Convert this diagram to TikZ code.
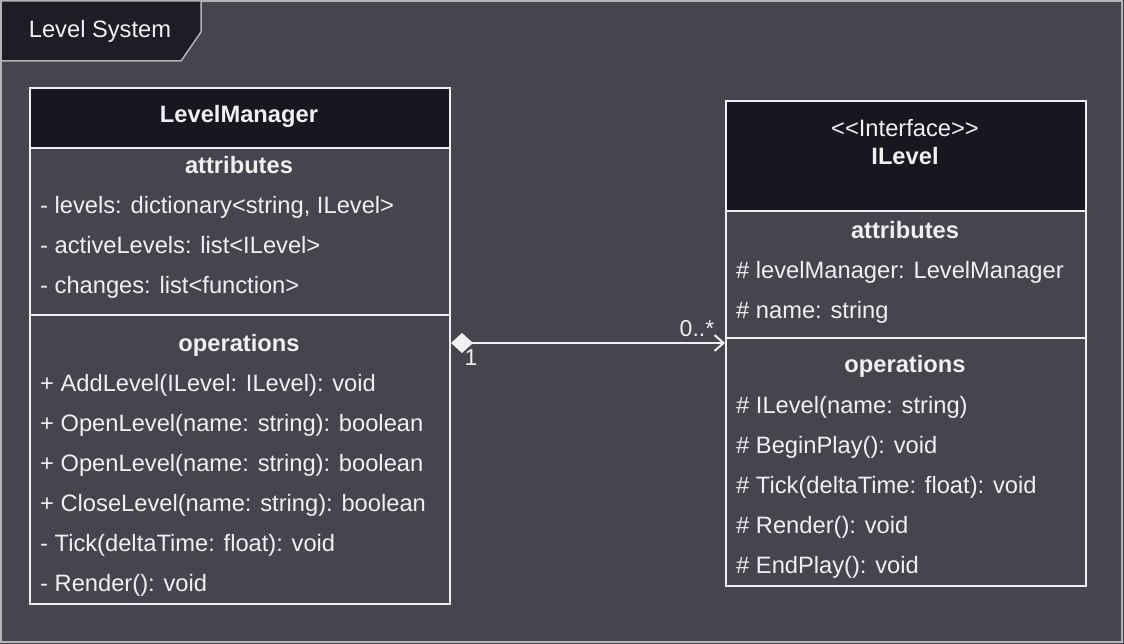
\documentclass[tikz,border=0pt]{standalone}
\usepackage{fontspec}
\setmainfont{Liberation Sans}[Ligatures=NoCommon]
\usetikzlibrary{arrows.meta}
\definecolor{bg}{HTML}{46444C}
\definecolor{hd}{HTML}{18161E}
\definecolor{tabc}{HTML}{1E1C24}
\definecolor{fg}{HTML}{F0F0F0}
\definecolor{framec}{HTML}{B4B4B4}
\begin{document}
\begin{tikzpicture}[x=1pt,y=-1pt,
  txt/.style={text=fg, font=\fontsize{23.7}{28}\selectfont, inner sep=0pt},
  item/.style={txt, anchor=base west},
  ttl/.style={txt, anchor=base, font=\fontsize{23.7}{28}\selectfont\bfseries},
  lbl/.style={txt, font=\fontsize{23}{26}\selectfont},
  classbox/.style={draw=fg, line width=2pt, anchor=north west, inner sep=0pt},
  headbox/.style={classbox, fill=hd},
  sep/.style={draw=fg, line width=2pt},
  assoc/.style={draw=fg, line width=2pt, {Diamond[fill=fg,length=22pt,width=20pt,line width=1pt]}-{Straight Barb[length=9pt,width=16pt]}}
]
\useasboundingbox (0,0) rectangle (1124,644);
\fill[bg] (0,0) rectangle (1124,644);
\draw[framec, line width=1.5pt] (1,1) rectangle (1122,642);
% tab
\draw[framec, fill=tabc, line width=1.5pt] (1,1) -- (201,1) -- (201,32) -- (181,61) -- (1,61) -- cycle;
\node[txt] (tabtxt) at (100,31) {Level System};

% LevelManager
\node[headbox, minimum width=420pt, minimum height=60pt] (lmhead) at (29,87) {};
\node[classbox, minimum width=420pt, minimum height=516pt] (lm) at (29,87) {};
\node[ttl] (lmname) at (239,123) {LevelManager};
\draw[sep] (lm.west |- 0,315) -- (lm.east |- 0,315);
\node[ttl] (lmattr) at (239,174) {attributes};
\node[item] (lma1) at (40,214) {- levels: dictionary{<}string, ILevel{>}};
\node[item] (lma2) at (40,254) {- activeLevels: list{<}ILevel{>}};
\node[item] (lma3) at (40,294) {- changes: list{<}function{>}};
\node[ttl] (lmops) at (239,351) {operations};
\node[item] (lmo1) at (40,391) {+ AddLevel(ILevel: ILevel): void};
\node[item] (lmo2) at (40,431) {+ OpenLevel(name: string): boolean};
\node[item] (lmo3) at (40,471) {+ OpenLevel(name: string): boolean};
\node[item] (lmo4) at (40,511) {+ CloseLevel(name: string): boolean};
\node[item] (lmo5) at (40,551) {- Tick(deltaTime: float): void};
\node[item] (lmo6) at (40,591) {- Render(): void};

% ILevel
\node[headbox, minimum width=360pt, minimum height=110pt] (ilhead) at (725,100) {};
\node[classbox, minimum width=360pt, minimum height=485pt] (il) at (725,100) {};
\node[txt, anchor=base] (ilster) at (905,137) {{<}{<}Interface{>}{>}};
\node[ttl] (ilname) at (905,165) {ILevel};
\draw[sep] (il.west |- 0,338) -- (il.east |- 0,338);
\node[ttl] (ilattr) at (905,239) {attributes};
\node[item] (ila1) at (736,279) {\# levelManager: LevelManager};
\node[item] (ila2) at (736,319) {\# name: string};
\node[ttl] (ilops) at (905,372) {operations};
\node[item] (ilo1) at (736,413) {\# ILevel(name: string)};
\node[item] (ilo2) at (736,453) {\# BeginPlay(): void};
\node[item] (ilo3) at (736,493) {\# Tick(deltaTime: float): void};
\node[item] (ilo4) at (736,533) {\# Render(): void};
\node[item] (ilo5) at (736,573) {\# EndPlay(): void};

% association
\coordinate (src) at (lm.east |- 0,343);
\coordinate (dst) at (il.west |- 0,343);
\draw[assoc] (src) -- (dst);
\node[lbl] (m1) at (471,358) {1};
\node[lbl] (m2) at (697,329) {0..*};
\end{tikzpicture}
\end{document}
